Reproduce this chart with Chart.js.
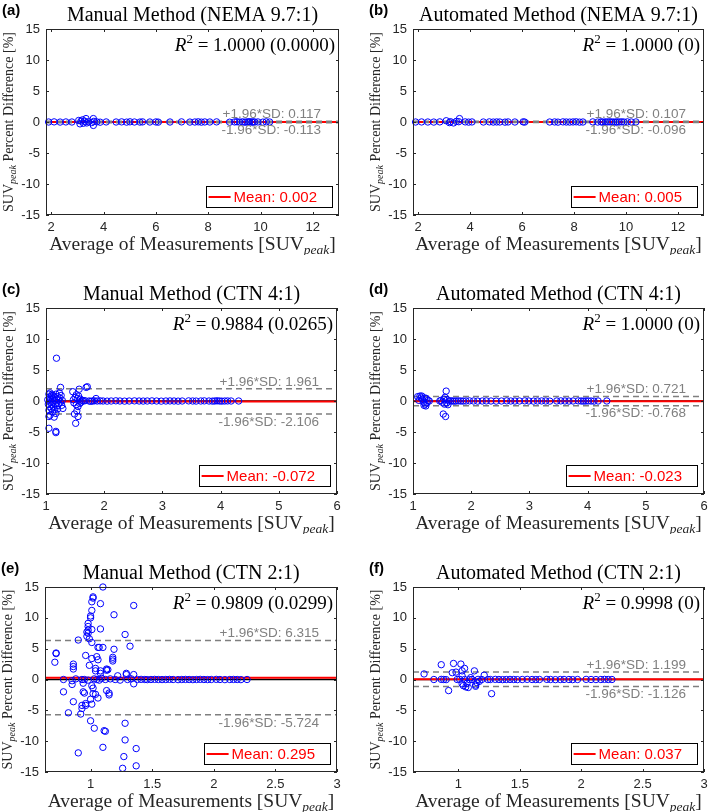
<!DOCTYPE html>
<html>
<head>
<meta charset="utf-8">
<script src="https://cdn.jsdelivr.net/npm/chart.js@4.4.0/dist/chart.umd.min.js"></script>
<style>
  html, body { margin: 0; padding: 0; background: #fff; overflow: hidden; }
  #wrap { position: relative; width: 709px; height: 812px; overflow: hidden; }
  #wrap canvas { position: absolute; }
</style>
</head>
<body>
<div id="wrap"></div>
<script>
// ---- datos: [promedio SUVpeak, diferencia %] ----
const manNema = [[1.90,0],[2.11,0.02],[2.34,-0.01],[2.56,0.01],[2.79,0],[3.05,0.25],[3.10,-0.3],[3.14,0.15],[3.20,0.35],[3.23,-0.2],
  [3.28,0.1],[3.33,0.55],[3.36,-0.15],[3.42,0.05],[3.55,-0.1],[3.61,0.55],[3.61,-0.55],[3.63,0.1],[3.74,0.02],[3.87,-0.03],
  [4.10,0.01],[4.48,0],[4.69,0.02],[4.88,-0.02],[5.01,0.03],[5.18,0],[5.39,-0.01],[5.49,0.02],[5.77,0],[6.00,0.01],
  [6.09,-0.02],[6.54,0],[6.98,0.02],[7.30,-0.01],[7.49,0],[7.62,0.03],[7.74,-0.02],[7.87,0.01],[8.06,0],[8.32,0.02],
  [8.82,-0.03],[9.01,0.01],[9.10,0.04],[9.20,-0.02],[9.31,0.03],[9.40,-0.04],[9.48,0.02],[9.55,-0.01],[9.59,0.05],[9.67,-0.03],
  [9.72,0.02],[9.78,0],[9.90,0.01],[10.09,-0.02],[10.22,0.03],[10.35,0]];
const autoNema = [[1.90,0],[2.13,0.01],[2.37,0],[2.60,-0.01],[2.83,0.02],[3.08,0.2],[3.20,-0.1],[3.24,0.05],[3.36,-0.15],[3.47,0.1],
  [3.56,0.05],[3.59,0.55],[3.81,0.02],[3.94,-0.02],[4.07,0.01],[4.51,0],[4.74,0.02],[4.89,-0.01],[5.02,0.01],[5.14,0],
  [5.34,-0.02],[5.46,0.01],[5.72,0],[6.04,0.02],[6.10,-0.01],[7.06,0],[7.25,0.01],[7.38,-0.02],[7.57,0.02],[7.70,0],
  [7.83,-0.01],[7.96,0.01],[8.08,0.03],[8.21,-0.02],[8.34,0],[8.72,0.02],[8.91,-0.01],[9.04,0.03],[9.10,-0.03],[9.20,0.02],
  [9.28,0],[9.37,0.04],[9.45,-0.02],[9.52,0.01],[9.60,-0.03],[9.66,0.02],[9.74,0],[9.83,0.03],[9.92,-0.01],[10.05,0.02],
  [10.20,0],[10.38,0.01]];
const manCtn4 = [[1.03,0.2],[1.04,-0.5],[1.05,1.1],[1.05,-1.5],[1.05,-2.5],[1.05,-4.4],[1.06,0.6],[1.06,-0.9],[1.07,1.3],[1.07,-2.3],
  [1.08,0.3],[1.08,-0.2],[1.09,0.8],[1.09,-1.2],[1.10,1.0],[1.10,-0.6],[1.11,0.4],[1.11,-1.8],[1.12,-0.3],[1.12,0.9],
  [1.13,-1.0],[1.14,0.6],[1.14,-2.6],[1.15,0.1],[1.15,-1.4],[1.16,-0.5],[1.17,1.1],[1.17,-4.9],[1.17,-5.1],[1.17,-2.0],
  [1.18,6.9],[1.18,0.3],[1.19,-0.8],[1.20,0.7],[1.20,-1.3],[1.21,0.2],[1.22,-0.4],[1.23,1.3],[1.24,0.5],[1.25,2.2],
  [1.25,-0.2],[1.26,0.9],[1.27,-0.7],[1.28,0.1],[1.29,-1.2],
  [1.46,1.5],[1.47,0.2],[1.48,-0.3],[1.49,-2.1],[1.50,0.6],[1.51,-3.6],[1.52,1.0],[1.52,-0.6],[1.53,-1.6],[1.54,0.4],
  [1.55,-2.5],[1.55,-0.9],[1.56,0.8],[1.57,1.9],[1.58,-0.4],[1.59,0.3],[1.60,-0.2],[1.62,0.1],[1.69,2.2],[1.71,2.3],
  [1.64,0],[1.67,0.05],[1.74,0],[1.77,-0.05],[1.80,0],[1.83,0.03],[1.86,0.4],[1.88,0],[1.93,0.02],[1.98,0],
  [2.05,-0.02],[2.12,0],[2.20,0.03],[2.27,0],[2.35,-0.02],[2.43,0],[2.52,0.02],[2.60,0],[2.67,-0.01],[2.74,0],
  [2.82,0.02],[2.90,0],[2.98,-0.02],[3.06,0],[3.13,0.01],[3.20,0],[3.27,-0.02],[3.34,0],[3.45,0.02],[3.52,0],
  [3.58,-0.01],[3.66,0],[3.72,0.02],[3.80,0],[3.86,-0.02],[3.90,0],[3.94,0.03],[3.98,0],[4.02,-0.02],[4.07,0],
  [4.12,0.01],[4.18,0],[4.31,0]];
const autoCtn4 = [[1.08,0.7],[1.10,0.1],[1.12,0.8],[1.14,0.5],[1.15,0.8],[1.16,0.3],[1.18,-0.2],[1.19,-0.7],[1.20,0.5],[1.21,-0.5],
  [1.22,-0.8],[1.23,0.4],[1.24,-0.3],[1.26,0.1],[1.28,0],
  [1.46,0],[1.48,0.1],[1.50,-0.2],[1.52,-2.1],[1.53,0.3],[1.54,-0.5],[1.55,0.6],[1.56,-2.5],[1.57,1.6],[1.58,-0.3],
  [1.59,0.2],[1.60,-0.6],[1.62,0],[1.65,0.02],[1.68,0],[1.71,-0.02],[1.74,0],[1.78,0.02],[1.82,0],[1.86,-0.01],
  [1.91,0],[1.97,0.02],[2.04,0],[2.11,-0.02],[2.19,0],[2.26,0.01],[2.34,0],[2.43,-0.02],[2.52,0],[2.61,0.02],
  [2.68,0],[2.75,-0.01],[2.83,0],[2.92,0.02],[2.99,0],[3.07,-0.02],[3.14,0],[3.21,0.01],[3.28,0],[3.35,-0.02],
  [3.47,0],[3.54,0.02],[3.61,0],[3.68,-0.01],[3.75,0],[3.84,0.02],[3.89,0],[3.93,-0.02],[3.97,0],[4.01,0.01],
  [4.06,0],[4.11,-0.02],[4.18,0],[4.33,0]];
const manCtn2 = [[0.72,4.3],[0.72,4.2],[0.71,2.8],[0.78,-2.0],[0.82,-5.4],[0.85,-0.2],[0.85,-0.8],[0.86,2.5],[0.86,2.1],[0.86,1.7],
  [0.86,-3.6],[0.90,6.4],[0.90,-11.9],[0.92,-5.6],[0.93,-4.2],[0.93,-4.7],[0.93,0.0],[0.94,-0.6],[0.94,-2.0],[0.95,-2.2],
  [0.96,3.9],[0.96,-3.9],[0.96,-4.2],[0.97,7.7],[0.97,7.0],[0.98,9.1],[0.98,8.0],[0.98,7.5],[0.98,8.6],[0.99,2.3],
  [0.99,6.6],[1.00,10.3],[1.00,10.0],[1.00,-6.7],[1.00,-3.2],[1.01,-4.0],[1.01,11.2],[1.01,12.6],[1.01,6.0],[1.01,8.1],
  [1.01,3.4],[1.01,-1.0],[1.02,13.4],[1.02,13.2],[1.02,-1.4],[1.02,-2.3],[1.03,-7.9],[1.04,1.8],[1.04,1.4],[1.04,-2.4],
  [1.05,3.7],[1.06,3.2],[1.06,-3.0],[1.06,5.2],[1.07,5.2],[1.08,8.2],[1.08,12.3],[1.08,1.4],[1.08,1.0],[1.10,15.0],
  [1.10,5.2],[1.10,-11.0],[1.11,-8.3],[1.12,-8.4],[1.13,1.7],[1.13,1.5],[1.13,-1.8],[1.14,1.6],[1.15,-2.2],[1.15,-2.5],
  [1.18,3.6],[1.18,3.3],[1.18,3.0],[1.19,10.5],[1.19,4.9],[1.22,0.6],[1.26,-14.4],[1.27,-12.5],[1.28,7.3],[1.28,-7.1],
  [1.28,-9.8],[1.29,1.0],[1.29,0.8],[1.32,5.4],[1.35,12.0],[1.35,0.8],[1.35,-0.7],[1.37,-11.2],[1.37,-14.0],
  [0.78,0],[0.88,0.1],[0.95,0],[0.98,-0.1],[1.03,0.1],[1.05,0],[1.07,-0.1],[1.09,0.2],[1.12,0],[1.16,0.1],
  [1.20,0],[1.24,-0.1],[1.30,0],[1.33,0.1],[1.38,0],[1.41,0.02],[1.44,0],[1.46,-0.02],[1.49,0],[1.52,0.02],
  [1.55,0],[1.58,-0.01],[1.61,0],[1.64,0.02],[1.67,0],[1.71,-0.02],[1.74,0],[1.77,0.01],[1.80,0],[1.83,-0.02],
  [1.86,0],[1.89,0.02],[1.92,0],[1.95,-0.01],[1.98,0],[2.02,0.02],[2.05,0],[2.09,-0.02],[2.13,0],[2.16,0.01],
  [2.19,0],[2.22,-0.02],[2.27,0]];
const autoCtn2 = [[0.72,0.9],[0.86,2.4],[0.96,2.6],[0.95,1.1],[0.98,1.2],[1.02,2.5],[1.05,1.8],[1.03,1.4],[1.13,1.4],[1.21,0.7],
  [0.92,-1.8],[1.03,-0.7],[1.04,-1.0],[1.06,-1.2],[1.07,-0.6],[1.14,-0.9],[1.15,-0.5],[1.14,-1.1],[1.08,-1.3],[1.27,-2.3],
  [1.03,0.6],[1.10,0.3],[1.17,-0.3],
  [0.80,0],[0.86,0.02],[0.88,0],[0.90,-0.02],[0.99,0],[1.01,0.03],[1.05,0],[1.09,-0.02],[1.11,0],[1.16,0.02],
  [1.19,0],[1.24,-0.01],[1.26,0],[1.30,0.02],[1.33,0],[1.36,-0.02],[1.39,0],[1.42,0.01],[1.45,0],[1.48,-0.02],
  [1.52,0],[1.56,0.02],[1.60,0],[1.63,-0.01],[1.66,0],[1.72,0.02],[1.75,0],[1.79,-0.02],[1.83,0],[1.86,0.01],
  [1.90,0],[1.93,-0.02],[1.97,0],[2.04,0.02],[2.08,0],[2.12,-0.01],[2.16,0],[2.19,0.02],[2.22,0],[2.25,0]];

// estadisticos y textos de cada panel
const meanVals = [0.002, 0.005, -0.072, -0.023, 0.295, 0.037];
const sdUpper  = [0.117, 0.107, 1.961, 0.721, 6.315, 1.199];
const sdLower  = [-0.113, -0.096, -2.106, -0.768, -5.724, -1.126];
const r2Texts  = ['1.0000 (0.0000)', '1.0000 (0)', '0.9884 (0.0265)', '1.0000 (0)', '0.9809 (0.0299)', '0.9998 (0)'];
const titulos  = ['Manual Method (NEMA 9.7:1)', 'Automated Method (NEMA 9.7:1)', 'Manual Method (CTN 4:1)',
                  'Automated Method (CTN 4:1)', 'Manual Method (CTN 2:1)', 'Automated Method (CTN 2:1)'];
const letras   = ['(a)', '(b)', '(c)', '(d)', '(e)', '(f)'];
const ticksNema = [2, 4, 6, 8, 10, 12];
const ticksCtn4 = [1, 2, 3, 4, 5, 6];
const ticksCtn2 = [1, 1.5, 2, 2.5, 3];
const ticksY    = [-15, -10, -5, 0, 5, 10, 15];

const SERIF = "'Liberation Serif', 'Times New Roman', serif";
const SANS  = "'Liberation Sans', Arial, sans-serif";
const INK   = '#262626';

const paneles = [
  { datos: manNema,  xmin: 1.8,  xmax: 13, xticks: ticksNema, caja: [46, 29, 339, 215] },
  { datos: autoNema, xmin: 1.8,  xmax: 13, xticks: ticksNema, caja: [413, 29, 704, 215] },
  { datos: manCtn4,  xmin: 1,    xmax: 6,  xticks: ticksCtn4, caja: [46, 308, 337, 494] },
  { datos: autoCtn4, xmin: 1,    xmax: 6,  xticks: ticksCtn4, caja: [413, 308, 704, 494] },
  { datos: manCtn2,  xmin: 0.63, xmax: 3,  xticks: ticksCtn2, caja: [45, 587, 337, 772] },
  { datos: autoCtn2, xmin: 0.63, xmax: 3,  xticks: ticksCtn2, caja: [413, 587, 704, 772] },
];

// texto con partes de distinta fuente (subindices / superindices)
function textoRico(ctx, partes, x, y, align) {
  let total = 0;
  partes.forEach(p => { ctx.font = p.f; p.w = ctx.measureText(p.t).width; total += p.w; });
  let cx = align === 'center' ? x - total / 2 : align === 'right' ? x - total : x;
  ctx.textAlign = 'left';
  partes.forEach(p => { ctx.font = p.f; ctx.fillText(p.t, cx, y + (p.dy || 0)); cx += p.w; });
}

function decoracion(i) {
  const p = paneles[i];
  return {
    id: 'decoracion',
    afterDraw(chart) {
      const ctx = chart.ctx;
      const a   = chart.chartArea;
      const xs  = chart.scales.x, ys = chart.scales.y;
      ctx.save();

      // caja y marcas hacia dentro
      ctx.strokeStyle = INK; ctx.lineWidth = 1;
      ctx.strokeRect(a.left + 0.5, a.top + 0.5, a.right - a.left - 1, a.bottom - a.top - 1);
      ctx.beginPath();
      p.xticks.forEach(v => {
        const px = Math.round(xs.getPixelForValue(v)) + 0.5;
        ctx.moveTo(px, a.bottom); ctx.lineTo(px, a.bottom - 3);
        ctx.moveTo(px, a.top);    ctx.lineTo(px, a.top + 3);
      });
      ticksY.forEach(v => {
        const py = Math.round(ys.getPixelForValue(v)) + 0.5;
        ctx.moveTo(a.left, py);  ctx.lineTo(a.left + 3, py);
        ctx.moveTo(a.right, py); ctx.lineTo(a.right - 3, py);
      });
      ctx.stroke();

      // etiquetas de +-1.96 SD
      ctx.fillStyle = '#808080'; ctx.font = '13.5px ' + SANS;
      ctx.textAlign = 'right'; ctx.textBaseline = 'middle';
      ctx.fillText('+1.96*SD: ' + sdUpper[i].toFixed(3), a.right - 18, ys.getPixelForValue(sdUpper[i]) - 7);
      ctx.fillText('-1.96*SD: ' + sdLower[i].toFixed(3), a.right - 18, ys.getPixelForValue(sdLower[i]) + 8);

      // R^2
      ctx.textBaseline = 'alphabetic'; ctx.fillStyle = '#000';
      textoRico(ctx, [
        { t: 'R', f: 'italic 19px ' + SERIF },
        { t: '2', f: '13px ' + SERIF, dy: -8 },
        { t: ' = ' + r2Texts[i], f: '19px ' + SERIF },
      ], a.right - 4, a.top + 22, 'right');

      // leyenda de la media
      ctx.font = '15px ' + SANS;
      const txt = 'Mean: ' + meanVals[i].toFixed(3);
      const tw  = ctx.measureText(txt).width;
      const bR = a.right - 7, bB = a.bottom - 8, bH = 21;
      const bL = bR - (28 + tw + 15), bT = bB - bH;
      ctx.fillStyle = '#fff'; ctx.fillRect(bL, bT, bR - bL, bH);
      ctx.strokeStyle = '#000'; ctx.lineWidth = 1;
      ctx.strokeRect(Math.round(bL) + 0.5, bT + 0.5, Math.round(bR - bL), bH);
      ctx.strokeStyle = '#ff0000'; ctx.lineWidth = 2;
      ctx.beginPath(); ctx.moveTo(bL + 3, bT + bH / 2 + 0.5); ctx.lineTo(bL + 25, bT + bH / 2 + 0.5); ctx.stroke();
      ctx.fillStyle = '#ff0000'; ctx.textAlign = 'left'; ctx.textBaseline = 'middle';
      ctx.fillText(txt, bL + 28, bT + bH / 2 + 1);

      // titulo, letra del panel, ejes
      const cxPlot = (a.left + a.right) / 2;
      ctx.fillStyle = '#000'; ctx.textBaseline = 'alphabetic'; ctx.textAlign = 'center';
      ctx.font = '20px ' + SERIF;
      ctx.fillText(titulos[i], cxPlot, a.top - 8);
      ctx.font = 'bold 15px ' + SANS; ctx.textAlign = 'left';
      ctx.fillText(letras[i], a.left - 44, a.top - 14);

      ctx.fillStyle = INK;
      textoRico(ctx, [
        { t: 'Average of Measurements [SUV', f: '19.5px ' + SERIF },
        { t: 'peak', f: 'italic 13.5px ' + SERIF, dy: 4 },
        { t: ']', f: '19.5px ' + SERIF },
      ], cxPlot, a.bottom + 35, 'center');

      ctx.translate(a.left - 38, (a.top + a.bottom) / 2);
      ctx.rotate(-Math.PI / 2);
      textoRico(ctx, [
        { t: 'SUV', f: '14px ' + SERIF },
        { t: 'peak', f: 'italic 10px ' + SERIF, dy: 3 },
        { t: ' Percent Difference [%]', f: '14px ' + SERIF },
      ], 0, 5, 'center');
      ctx.restore();
    }
  };
}

const wrap = document.getElementById('wrap');

paneles.forEach((p, i) => {
  const [L, T, R, B] = p.caja;
  const cl = L - 46, ct = T - 29;
  const cw = R - cl + 15, ch = B - ct + 40;
  const cv = document.createElement('canvas');
  cv.width = cw; cv.height = ch;
  cv.style.left = cl + 'px'; cv.style.top = ct + 'px';
  cv.style.width = cw + 'px'; cv.style.height = ch + 'px';
  wrap.appendChild(cv);

  const linea = (y, color, ancho, dash, orden) => ({
    data: [{ x: p.xmin, y }, { x: p.xmax, y }],
    showLine: true, pointRadius: 0, borderColor: color, borderWidth: ancho,
    borderDash: dash, order: orden
  });

  new Chart(cv, {
    type: 'scatter',
    data: {
      datasets: [
        linea(0, '#000', 1.5, [], 4),
        linea(meanVals[i], '#ff0000', 2, [], 3),
        linea(sdUpper[i], '#7f7f7f', 1.5, [6, 4], 2),
        linea(sdLower[i], '#7f7f7f', 1.5, [6, 4], 2),
        {
          data: p.datos.map(d => ({ x: d[0], y: d[1] })),
          pointStyle: 'circle', pointRadius: 3.2, borderWidth: 1,
          borderColor: '#0000ff', backgroundColor: 'rgba(0,0,0,0)', clip: 4, order: 0
        }
      ]
    },
    options: {
      responsive: false, animation: false, devicePixelRatio: 1,
      layout: { padding: { left: 0, top: 29, right: 15, bottom: 0 } },
      plugins: { legend: { display: false }, tooltip: { enabled: false } },
      scales: {
        x: {
          type: 'linear', min: p.xmin, max: p.xmax,
          afterBuildTicks: s => { s.ticks = p.xticks.map(v => ({ value: v })); },
          afterFit: s => { s.height = 40; },
          grid: { display: false, drawTicks: false }, border: { display: false },
          ticks: { font: { family: SANS, size: 13 }, color: INK, padding: 5, maxRotation: 0, autoSkip: false,
                   callback: v => String(v) }
        },
        y: {
          type: 'linear', min: -15, max: 15,
          afterBuildTicks: s => { s.ticks = ticksY.map(v => ({ value: v })); },
          afterFit: s => { s.width = 46; },
          grid: { display: false, drawTicks: false }, border: { display: false },
          ticks: { font: { family: SANS, size: 13 }, color: INK, padding: 6, autoSkip: false,
                   callback: v => String(v) }
        }
      }
    },
    plugins: [decoracion(i)]
  });
});
</script>
</body>
</html>
